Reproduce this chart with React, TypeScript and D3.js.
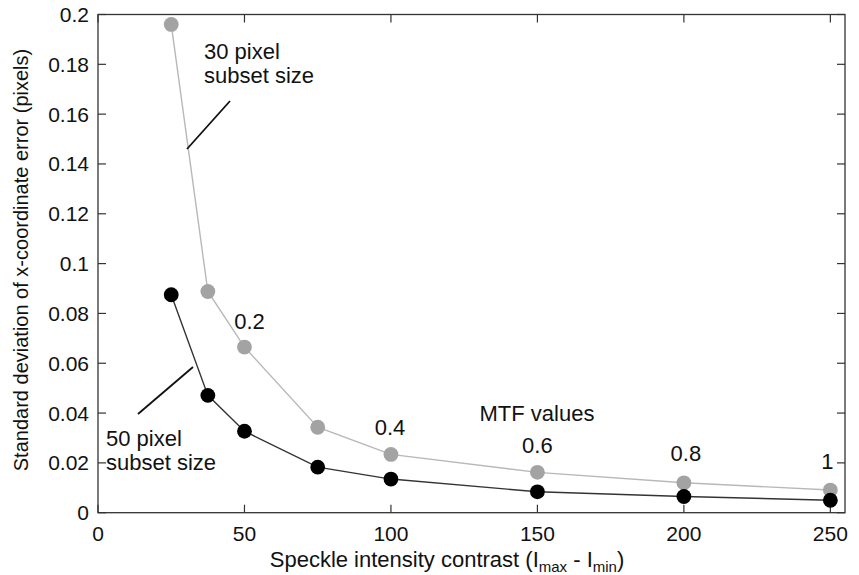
import React from "react";
import * as d3 from "d3";

const contrast = [25, 37.5, 50, 75, 100, 150, 200, 250];
const err30 = [0.196, 0.0888, 0.0665, 0.0343, 0.0234, 0.0162, 0.012, 0.0091];
const err50 = [0.0875, 0.0471, 0.0327, 0.0183, 0.0135, 0.0084, 0.0065, 0.0050];
const xTicks = [0, 50, 100, 150, 200, 250];
const yTicks = [0, 0.02, 0.04, 0.06, 0.08, 0.1, 0.12, 0.14, 0.16, 0.18, 0.2];
const mtfLabels = ["0.2", "0.4", "0.6", "0.8", "1"];
const mtfAt = [50, 100, 150, 200, 250];

const W = 859;
const H = 575;
const L = 98, R = 845, T = 14.5, B = 512.7;
const font = "'Liberation Sans', Arial, Helvetica, sans-serif";

// label offsets relative to the gray marker (layout only)
const mtfDx = [5, -1, 0, 2, -3];
const mtfDy = [-18, -19, -19, -22, -21];

export default function App() {
  const x = d3.scaleLinear().domain([0, 255]).range([L, R]);
  const y = d3.scaleLinear().domain([0, 0.2]).range([B, T]);
  const line = d3
    .line<number>()
    .x((_, i) => x(contrast[i]))
    .y((d) => y(d));
  const tk = 8;
  return (
    <svg
      width={W}
      height={H}
      style={{ position: "absolute", left: 0, top: 0, background: "#fff" }}
      fontFamily={font}
    >
      <rect x={0} y={0} width={W} height={H} fill="#fff" />
      <rect x={L} y={T} width={R - L} height={B - T} fill="none" stroke="#333" strokeWidth={1.3} />
      {xTicks.map((t) => (
        <g key={"x" + t}>
          <line x1={x(t)} x2={x(t)} y1={B} y2={B - tk} stroke="#333" strokeWidth={1.2} />
          <line x1={x(t)} x2={x(t)} y1={T} y2={T + tk} stroke="#333" strokeWidth={1.2} />
          <text x={x(t)} y={B + 28} textAnchor="middle" fontSize={21} fill="#111">
            {t}
          </text>
        </g>
      ))}
      {yTicks.map((t) => (
        <g key={"y" + t}>
          <line x1={L} x2={L + tk} y1={y(t)} y2={y(t)} stroke="#333" strokeWidth={1.2} />
          <line x1={R} x2={R - tk} y1={y(t)} y2={y(t)} stroke="#333" strokeWidth={1.2} />
          <text x={L - 9} y={y(t) + 7.5} textAnchor="end" fontSize={21} fill="#111">
            {d3.format("~g")(t)}
          </text>
        </g>
      ))}
      <path d={line(err30) || ""} fill="none" stroke="#b8b8b8" strokeWidth={1.4} />
      <path d={line(err50) || ""} fill="none" stroke="#333" strokeWidth={1.4} />
      {err30.map((v, i) => (
        <circle key={"g" + i} cx={x(contrast[i])} cy={y(v)} r={7.4} fill="#a3a3a3" />
      ))}
      {err50.map((v, i) => (
        <circle key={"b" + i} cx={x(contrast[i])} cy={y(v)} r={7.4} fill="#000" />
      ))}
      {mtfLabels.map((m, i) => {
        const idx = contrast.indexOf(mtfAt[i]);
        return (
          <text
            key={"m" + i}
            x={x(mtfAt[i]) + mtfDx[i]}
            y={y(err30[idx]) + mtfDy[i]}
            textAnchor="middle"
            fontSize={22}
            fill="#111"
          >
            {m}
          </text>
        );
      })}
      <text x={537} y={421} textAnchor="middle" fontSize={22} fill="#111">
        MTF values
      </text>
      <text x={204} y={58.5} fontSize={22} fill="#111">30 pixel</text>
      <text x={204} y={83} fontSize={22} fill="#111">subset size</text>
      <line x1={187} y1={149} x2={230} y2={101} stroke="#111" strokeWidth={1.8} />
      <text x={106} y={445.5} fontSize={22} fill="#111">50 pixel</text>
      <text x={106} y={470} fontSize={22} fill="#111">subset size</text>
      <line x1={138} y1={414} x2={193} y2={367} stroke="#111" strokeWidth={1.8} />
      <text x={447} y={567} textAnchor="middle" fontSize={22} fill="#111">
        Speckle intensity contrast (I
        <tspan fontSize={15} dy={5}>max</tspan>
        <tspan dy={-5}> - I</tspan>
        <tspan fontSize={15} dy={5}>min</tspan>
        <tspan dy={-5}>)</tspan>
      </text>
      <text
        transform={`translate(28, 260) rotate(-90)`}
        textAnchor="middle"
        fontSize={20}
        fill="#111"
      >
        Standard deviation of x-coordinate error (pixels)
      </text>
    </svg>
  );
}
